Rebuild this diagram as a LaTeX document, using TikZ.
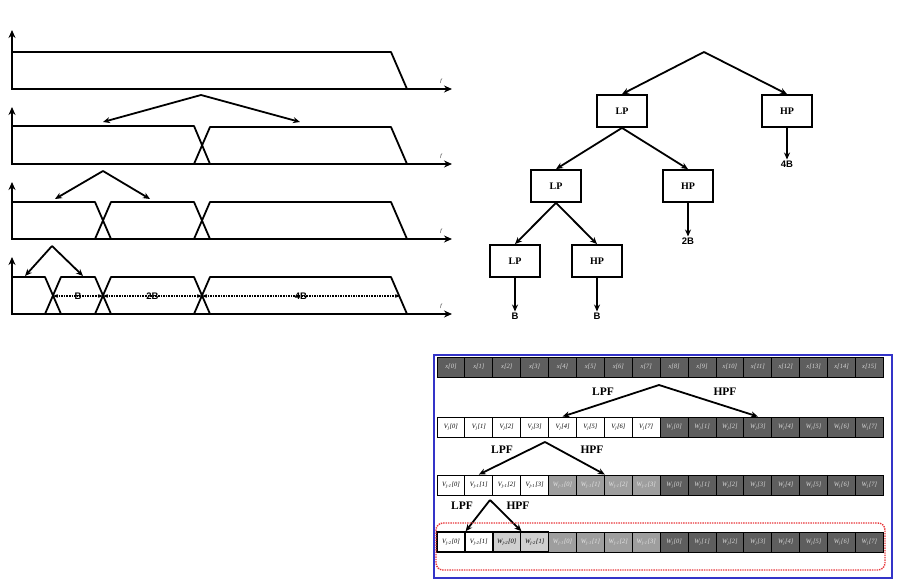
\documentclass[tikz,border=0pt]{standalone}
\usepackage{fontspec}
\setmainfont{Liberation Serif}
\setsansfont{Liberation Sans}
\usetikzlibrary{positioning,arrows.meta,calc}
\definecolor{FrameBlue}{HTML}{3434C8}
\definecolor{CellDark}{HTML}{5E5E5E}
\definecolor{CellMid}{HTML}{9E9E9E}
\definecolor{CellLight}{HTML}{CFCFCF}
\definecolor{BoxRed}{HTML}{E8363A}
\newcommand{\cellfont}{\fontsize{6.5}{6.5}\selectfont\itshape}
\newcommand{\vv}[2]{V\textsubscript{#1}[#2]}
\newcommand{\ww}[2]{W\textsubscript{#1}[#2]}
\newcommand{\cx}[1]{437+27.9*(#1+0.5)}

\begin{document}
\begin{tikzpicture}[x=1pt,y=-1pt,
  axis/.style={line width=2.6pt,{Stealth[length=8pt,width=7pt]}-{Stealth[length=8pt,width=7pt]}},
  band/.style={line width=1.8pt,line join=round},
  split/.style={line width=1.8pt,-{Stealth[length=7pt,width=6pt]}},
  filt/.style={draw,line width=1.8pt,minimum width=50pt,minimum height=32pt,font=\fontsize{10}{10}\selectfont\bfseries},
  outlbl/.style={font=\fontsize{9.5}{9.5}\selectfont\sffamily\bfseries,inner sep=1pt},
  cell/.style={draw,line width=0.9pt,minimum width=27.9pt,minimum height=20pt,inner sep=0pt,font=\cellfont},
  dk/.style={cell,fill=CellDark,text=white!85!black},
  md/.style={cell,fill=CellMid,text=white!90!black},
  lt/.style={cell,fill=CellLight,line width=1.5pt},
  wt/.style={cell,fill=white},
  lbl/.style={font=\fontsize{11.5}{11.5}\selectfont\bfseries}]
\useasboundingbox (0,0) rectangle (900,585);

\foreach \b/\t in {89/30,164/107,239/182,314/257}{
  \draw[axis] (12,\t) -- (12,\b) -- (452,\b);
  \node[font=\fontsize{5}{5}\selectfont\itshape] at (441,\b-8) {f};
}
\foreach \b in {164,239,314}
  \draw[band] (194,\b) -- (210,\b-37) -- (391,\b-37) -- (407,\b);
\draw[band] (12,52) -- (391,52) -- (407,89);
\draw[band] (12,126) -- (194,126) -- (210,164);
\draw[band] (12,202) -- (95,202) -- (111,239);
\draw[band] (95,239) -- (111,202) -- (194,202) -- (210,239);
\draw[band] (12,277) -- (45,277) -- (61,314);
\draw[band] (45,314) -- (61,277) -- (95,277) -- (111,314);
\draw[band] (95,314) -- (111,277) -- (194,277) -- (210,314);

\draw[split] (201,95) -- (103,122);
\draw[split] (201,95) -- (300,122);
\draw[split] (103,171) -- (55,199);
\draw[split] (103,171) -- (150,199);
\draw[split] (52,246) -- (25,276);
\draw[split] (52,246) -- (83,276);

\coordinate (c1) at (53,296);
\coordinate (c2) at (103,296);
\coordinate (c3) at (202,296);
\coordinate (c4) at (400,296);
\draw[densely dotted,line width=1.6pt,{Stealth[length=5pt]}-{Stealth[length=5pt]}] (c1) -- (c2) node[midway,outlbl,above=-5pt] {B};
\draw[densely dotted,line width=1.6pt,{Stealth[length=5pt]}-{Stealth[length=5pt]}] (c2) -- (c3) node[midway,outlbl,above=-5pt] {2B};
\draw[densely dotted,line width=1.6pt,{Stealth[length=5pt]}-{Stealth[length=5pt]}] (c3) -- (c4) node[midway,outlbl,above=-5pt] {4B};

\coordinate (root) at (704,52);
\node[filt] (lpa) at (622,111) {LP};
\node[filt] (hpa) at (787,111) {HP};
\node[filt] (lpb) at (556,186) {LP};
\node[filt] (hpb) at (688,186) {HP};
\node[filt] (lpc) at (515,261) {LP};
\node[filt] (hpc) at (597,261) {HP};
\node[outlbl] (o4b) at (787,164) {4B};
\node[outlbl] (o2b) at (688,241) {2B};
\node[outlbl] (o1b) at (515,316) {B};
\node[outlbl] (o0b) at (597,316) {B};
\draw[split] (root) -- (lpa.north);
\draw[split] (root) -- (hpa.north);
\draw[split] (lpa.south) -- (lpb.north);
\draw[split] (lpa.south) -- (hpb.north);
\draw[split] (lpb.south) -- (lpc.north);
\draw[split] (lpb.south) -- (hpc.north);
\draw[split] (hpa) -- (o4b);
\draw[split,line width=2.4pt] (hpb) -- (o2b);
\draw[split] (lpc) -- (o1b);
\draw[split] (hpc) -- (o0b);

\draw[FrameBlue,line width=1.4pt] (434,355) rectangle (892,578);

\foreach \i in {0,...,15}
  \node[dk] (a\i) at ({\cx{\i}},367) {x[\i]};
\foreach \i in {0,...,7}{
  \pgfmathtruncatemacro\k{\i+8}
  \node[wt] (b\i) at ({\cx{\i}},427) {\vv{j}{\i}};
  \node[dk] (b\k) at ({\cx{\k}},427) {\ww{j}{\i}};
  \node[dk] (c\k) at ({\cx{\k}},485) {\ww{j}{\i}};
  \node[dk] (d\k) at ({\cx{\k}},542) {\ww{j}{\i}};
}
\foreach \i in {0,...,3}{
  \pgfmathtruncatemacro\k{\i+4}
  \node[wt] (c\i) at ({\cx{\i}},485) {\vv{j-1}{\i}};
  \node[md] (c\k) at ({\cx{\k}},485) {\ww{j-1}{\i}};
  \node[md] (d\k) at ({\cx{\k}},542) {\ww{j-1}{\i}};
}
\node[wt,line width=1.5pt] (d0) at ({\cx{0}},542) {\vv{j-2}{0}};
\node[wt,line width=1.5pt] (d1) at ({\cx{1}},542) {\vv{j-2}{1}};
\node[lt] (d2) at ({\cx{2}},542) {\ww{j-2}{0}};
\node[lt] (d3) at ({\cx{3}},542) {\ww{j-2}{1}};

\coordinate (s1) at (659,385);
\draw[split] (s1) -- (b4.north);
\draw[split] (s1) -- (b11.north);
\node[lbl] at (603,392) {LPF};
\node[lbl] at (725,392) {HPF};
\coordinate (s2) at (545,442);
\draw[split] (s2) -- (c1.north);
\draw[split] (s2) -- (c5.north east);
\node[lbl] at (502,450) {LPF};
\node[lbl] at (592,450) {HPF};
\coordinate (s3) at (490,500);
\draw[split] (s3) -- (d0.north east);
\draw[split] (s3) -- (d2.north east);
\node[lbl] at (462,506) {LPF};
\node[lbl] at (518,506) {HPF};

\draw[BoxRed,densely dotted,line width=1.4pt,rounded corners=7pt] (436,523) rectangle (885,570);
\end{tikzpicture}
\end{document}
